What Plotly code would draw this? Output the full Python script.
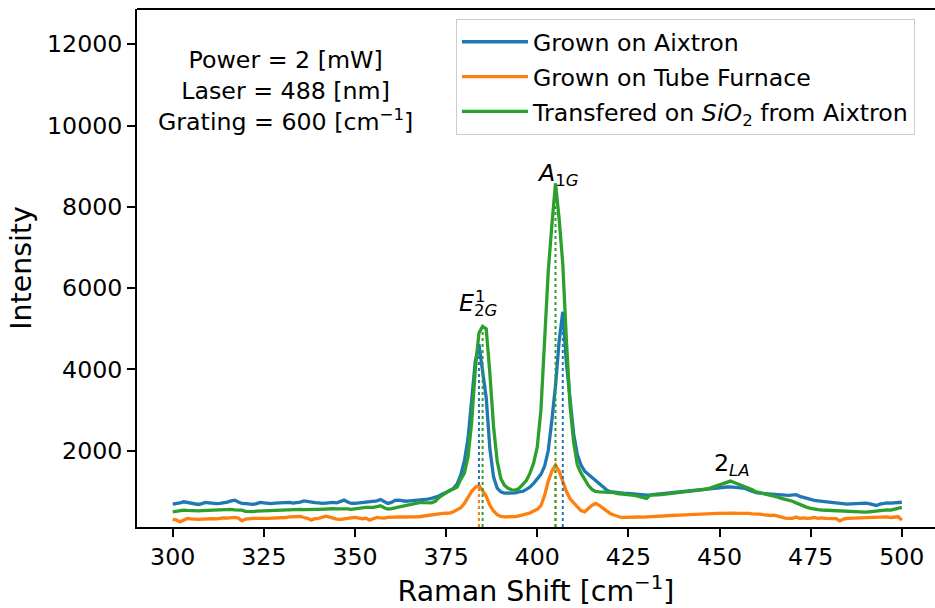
import numpy as np
import plotly.graph_objects as go

# Raman shift grid [cm^-1]
shift = np.arange(300, 501)

# Intensity spectra (counts), one value per cm^-1 from 300 to 500
aixtron = [
    689, 700, 720, 746, 730, 700, 690, 681, 700, 730,
    720, 706, 700, 710, 720, 740, 770, 787, 740, 706,
    700, 690, 681, 700, 730, 720, 706, 700, 715, 720,
    706, 720, 730, 715, 725, 740, 770, 750, 730, 725,
    720, 706, 715, 725, 730, 720, 750, 787, 740, 706,
    710, 720, 730, 740, 746, 740, 770, 804, 760, 706,
    730, 780, 787, 767, 760, 770, 775, 785, 787, 790,
    810, 830, 853, 890, 940, 970, 1020, 1075, 1180, 1400,
    1750, 2300, 3250, 4200, 4620, 4000, 3300, 2050, 1360, 1080,
    990, 960, 955, 955, 965, 990, 1000, 1050, 1110, 1200,
    1300, 1420, 1620, 2000, 2750, 3600, 4700, 5420, 4150, 3200,
    2400, 1900, 1650, 1500, 1420, 1350, 1260, 1180, 1100, 1040,
    995, 980, 970, 960, 955, 952, 940, 930, 920, 915,
    910, 915, 925, 930, 935, 940, 950, 960, 975, 985,
    995, 1005, 1015, 1025, 1033, 1040, 1050, 1060, 1070, 1080,
    1090, 1100, 1110, 1115, 1110, 1105, 1090, 1075, 1040, 1000,
    970, 960, 950, 945, 940, 935, 925, 915, 910, 905,
    910, 920, 880, 850, 820, 790, 780, 770, 760, 745,
    735, 725, 715, 705, 695, 690, 695, 700, 710, 720,
    715, 700, 680, 656, 690, 715, 720, 715, 725, 730,
    735,
]

tube_furnace = [
    312, 300, 253, 300, 337, 325, 312, 315, 320, 330,
    337, 330, 325, 340, 352, 345, 355, 361, 345, 278,
    320, 337, 340, 337, 330, 337, 340, 345, 337, 340,
    350, 360, 377, 380, 394, 385, 360, 340, 295, 330,
    337, 360, 394, 370, 340, 320, 312, 330, 340, 350,
    361, 345, 330, 345, 295, 330, 361, 350, 345, 361,
    370, 380, 375, 372, 370, 372, 375, 377, 385, 400,
    418, 430, 443, 450, 460, 465, 470, 500, 540, 600,
    706, 850, 1000, 1100, 1150, 1020, 880, 660, 520, 430,
    390, 377, 375, 377, 380, 400, 420, 460, 470, 520,
    560, 650, 900, 1250, 1500, 1650, 1500, 1250, 1000, 820,
    710, 620, 530, 500, 580, 660, 706, 660, 590, 520,
    460, 420, 380, 361, 365, 370, 377, 375, 372, 370,
    377, 380, 390, 395, 401, 398, 405, 410, 415, 418,
    420, 425, 430, 435, 443, 440, 445, 450, 455, 460,
    465, 470, 465, 475, 470, 460, 465, 470, 460, 450,
    455, 445, 430, 418, 410, 420, 394, 360, 345, 337,
    337, 370, 340, 350, 337, 345, 360, 337, 352, 340,
    337, 320, 335, 278, 320, 337, 340, 345, 350, 352,
    352, 360, 365, 360, 370, 377, 377, 360, 370, 377,
    295,
]

transferred = [
    500, 515, 530, 541, 535, 525, 520, 524, 530, 535,
    540, 545, 550, 555, 560, 566, 560, 550, 545, 540,
    510, 500, 505, 515, 520, 530, 525, 520, 530, 535,
    540, 545, 550, 560, 566, 560, 555, 550, 555, 560,
    558, 565, 575, 583, 575, 570, 575, 580, 570, 558,
    565, 580, 595, 607, 600, 610, 630, 647, 600, 566,
    580, 600, 623, 640, 660, 680, 700, 722, 730, 725,
    722, 722, 760, 850, 910, 980, 1030, 1060, 1110, 1300,
    1450, 1850, 2700, 4000, 4900, 5060, 5000, 3900, 2600, 1750,
    1320, 1150, 1080, 1040, 1035, 1075, 1160, 1270, 1450, 1700,
    2100, 3000, 4700, 6400, 7550, 8577, 7700, 6600, 4700, 3100,
    2200, 1650, 1450, 1300, 1150, 1050, 1000, 990, 985, 990,
    991, 970, 950, 935, 925, 915, 910, 900, 880, 860,
    829, 910, 905, 915, 920, 930, 940, 950, 960, 967,
    975, 985, 995, 1005, 1016, 1030, 1050, 1070, 1100, 1120,
    1160, 1198, 1230, 1255, 1220, 1190, 1150, 1120, 1080, 1040,
    991, 970, 950, 930, 910, 890, 860, 829, 810, 795,
    760, 720, 680, 640, 610, 583, 560, 555, 545, 541,
    535, 530, 525, 520, 517, 510, 500, 492, 488, 484,
    490, 500, 510, 524, 520, 530, 545, 541, 560, 583,
    607,
]

names = [
    "Grown on Aixtron",
    "Grown on Tube Furnace",
    "Transfered on <i>SiO</i><sub>2</sub> from Aixtron",
]
colors = ["#1f77b4", "#ff7f0e", "#2ca02c"]
spectra = [np.array(aixtron), np.array(tube_furnace), np.array(transferred)]

# Windows (cm^-1) searched for the E2g and A1g modes
mode_windows = [(375, 395), (395, 415)]

y_lo = 0.5 * min(s.min() for s in spectra)
y_hi = 1.5 * max(s.max() for s in spectra)

FONT = "DejaVu Sans"
TXT = 23.7
LBL = 28.4
fig = go.Figure()

for name, color, spec in zip(names, colors, spectra):
    fig.add_trace(go.Scatter(
        x=shift, y=spec, mode="lines", name=name, legendgroup=name,
        line=dict(color=color, width=3.3),
    ))

# dotted markers from the axis up to each mode maximum
peaks = {}
for name, color, spec in zip(names, colors, spectra):
    for lo, hi in mode_windows:
        m = (shift >= lo) & (shift <= hi)
        i = np.argmax(spec[m])
        xp, yp = shift[m][i], spec[m][i]
        peaks[(name, lo)] = (xp, yp)
        fig.add_trace(go.Scatter(
            x=[xp, xp], y=[y_lo, yp], mode="lines", showlegend=False,
            hoverinfo="skip", line=dict(color=color, width=2, dash="dot"),
        ))

g_e2g = peaks[(names[2], 375)]
g_a1g = peaks[(names[2], 395)]
la_m = (shift >= 440) & (shift <= 470)
la_i = np.argmax(spectra[2][la_m])
g_2la = (shift[la_m][la_i], spectra[2][la_m][la_i])

ann_font = dict(family=FONT, size=TXT, color="black")
annotations = [
    dict(x=g_e2g[0], y=g_e2g[1], xref="x", yref="y",
         text="<i>E</i><sub>2<i>G</i></sub>", showarrow=False,
         xanchor="center", yanchor="middle", xshift=-4, yshift=22, font=ann_font),
    dict(x=g_e2g[0], y=g_e2g[1], xref="x", yref="y",
         text="1", showarrow=False,
         xanchor="center", yanchor="middle", xshift=-2, yshift=30,
         font=dict(family=FONT, size=16.5, color="black")),
    dict(x=g_a1g[0], y=g_a1g[1], xref="x", yref="y",
         text="<i>A</i><sub>1<i>G</i></sub>", showarrow=False,
         xanchor="center", yanchor="middle", xshift=2, yshift=9, font=ann_font),
    dict(x=g_2la[0], y=g_2la[1], xref="x", yref="y",
         text="2<sub><i>LA</i></sub>", showarrow=False,
         xanchor="center", yanchor="middle", xshift=2, yshift=17, font=ann_font),
    dict(x=0.1855, y=0.842, xref="paper", yref="paper",
         text="Power = 2 [mW]<br>Laser = 488 [nm]<br>Grating = 600 [cm<sup>\u22121</sup>]",
         showarrow=False, align="center", xanchor="center", yanchor="middle",
         font=ann_font),
]

axis_common = dict(
    showgrid=False, zeroline=False, showline=True, linecolor="black",
    linewidth=1.8, ticks="outside", ticklen=8, tickwidth=1.8,
    tickcolor="black", tickfont=dict(family=FONT, size=TXT, color="black"),
)

fig.update_layout(
    width=935, height=608,
    margin=dict(l=137, r=0, t=9, b=81, pad=0),
    paper_bgcolor="white", plot_bgcolor="white",
    font=dict(family=FONT, color="black"),
    xaxis=dict(range=[290.2, 509.1], tickvals=[300, 325, 350, 375, 400, 425, 450, 475, 500],
               title=dict(text="Raman Shift [cm<sup>\u22121</sup>]",
                          font=dict(family=FONT, size=LBL), standoff=9),
               **axis_common),
    yaxis=dict(range=[y_lo, y_hi], tickvals=[2000, 4000, 6000, 8000, 10000, 12000],
               tickformat="d",
               title=dict(text="Intensity", font=dict(family=FONT, size=LBL), standoff=7),
               **axis_common),
    legend=dict(x=0.3997, y=0.981, xanchor="left", yanchor="top",
                bgcolor="rgba(255,255,255,0.8)", bordercolor="#cccccc", borderwidth=1,
                font=dict(family=FONT, size=TXT, color="black"),
                traceorder="grouped", tracegroupgap=1, itemwidth=66),
    annotations=annotations,
    shapes=[dict(type="line", xref="paper", yref="paper", x0=0, x1=1, y0=1, y1=1,
                 line=dict(color="black", width=1.8))],
    showlegend=True,
)

fig.write_html("out.html", config={"displayModeBar": False})
